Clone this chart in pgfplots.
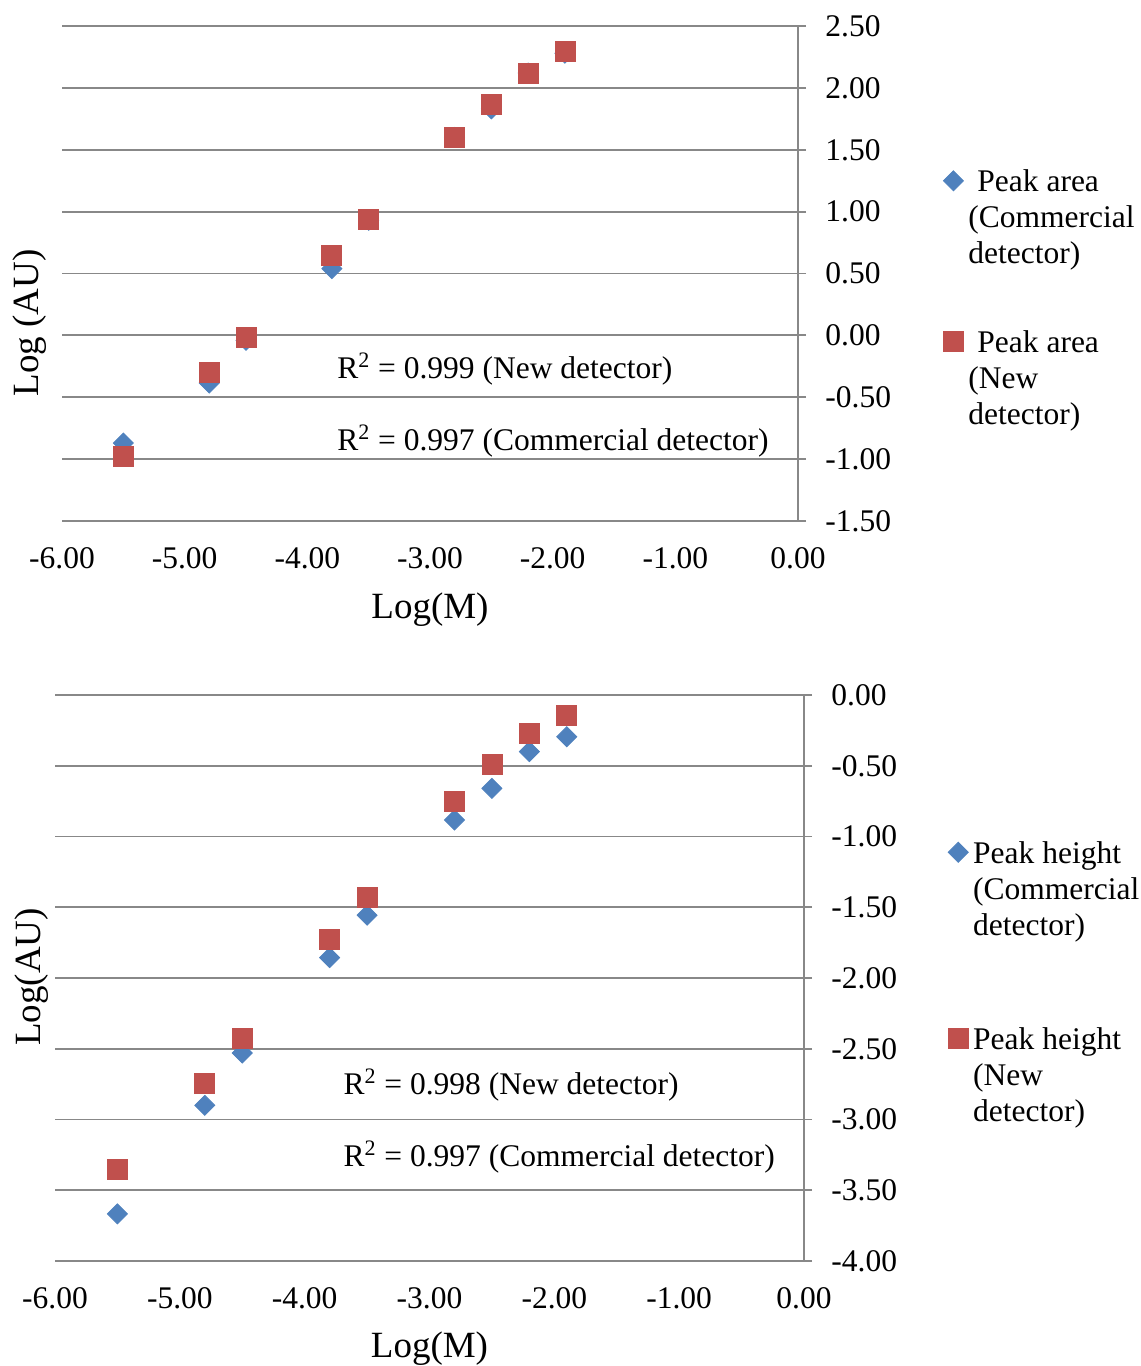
\documentclass[border=0pt]{standalone}
\usepackage{pgfplots}
\pgfplotsset{compat=1.18}
\usepackage{fontspec}
\setmainfont{Liberation Serif}
\definecolor{cblue}{HTML}{4F81BD}
\definecolor{cred}{HTML}{C0504D}
\definecolor{cgrid}{HTML}{888888}
\newcommand{\tfont}{\fontsize{15.75}{18}\selectfont}
\newcommand{\lfont}{\fontsize{18.5}{22}\selectfont}
\newcommand{\lgtext}[1]{\parbox[t]{100pt}{\raggedright\tfont #1}}
\pgfplotsset{
  myax/.style={
    scale only axis,
    xmin=-6, xmax=0,
    xtick={-6,-5,-4,-3,-2,-1,0},
    axis x line=bottom,
    axis y line=right,
    x axis line style={draw=none},
    y axis line style={draw=cgrid, line width=0.9pt, -},
    ymajorgrids,
    grid style={draw=cgrid, line width=0.9pt},
    xtick style={draw=none},
    ytick style={draw=cgrid, line width=0.9pt},
    major tick length=4pt,
    tick align=outside,
    tick label style={font=\tfont},
    /pgf/number format/.cd, fixed, fixed zerofill, precision=2, assume math mode=true, /pgfplots/.cd,
    yticklabel style={anchor=west, inner sep=0pt},
    yticklabel shift=9.5pt,
    xticklabel style={anchor=north, inner sep=0pt},
    xticklabel shift=9pt,
    legend style={draw=none, fill=none, font=\tfont, inner sep=0pt,
      nodes={inner sep=0pt, anchor=base west}, anchor=north west, column sep=2.5pt},
    legend cell align=left,
  },
  bm/.style={only marks, mark=square*, mark size=3.54pt, mark options={rotate=45, draw=cblue, fill=cblue},
    legend image code/.code={\draw[mark=square*, mark size=3.54pt, mark options={rotate=45, draw=cblue, fill=cblue}] plot coordinates {(5pt,5.5pt)};}},
  rm/.style={only marks, mark=square*, mark size=5pt, mark options={draw=cred, fill=cred},
    legend image code/.code={\draw[mark=square*, mark size=5pt, mark options={draw=cred, fill=cred}] plot coordinates {(5pt,5.5pt)};}},
}
\begin{document}
\begin{tikzpicture}
\useasboundingbox (0,0) rectangle (570.5pt,-683pt);
% ---------- top: peak area ----------
\begin{axis}[myax,
  at={(31pt,-13pt)}, anchor=north west,
  width=368pt, height=247.5pt,
  ymin=-1.5, ymax=2.5,
  ytick={-1.5,-1,-0.5,0,0.5,1,1.5,2,2.5},
  every axis y label/.style={at={(rel axis cs:-0.0435,0.4)}, rotate=90, anchor=center, font=\lfont},
  every axis x label/.style={at={(rel axis cs:0.5,0)}, anchor=center, yshift=-44.5pt, font=\lfont},
  ylabel={Log (AU)}, xlabel={Log(M)},
  legend style={at={(rel axis cs:1.197,0.71)}, row sep=68pt},
]
\addplot[bm] coordinates {(-5.5,-0.87) (-4.8,-0.385) (-4.5,-0.04) (-3.8,0.54) (-3.5,0.93) (-2.8,1.60) (-2.5,1.83) (-2.2,2.12) (-1.9,2.28)};
\addlegendentry{\lgtext{\hspace*{4.5pt}Peak area\\(Commercial\\detector)}}
\addplot[rm] coordinates {(-5.5,-0.975) (-4.8,-0.296) (-4.5,-0.02) (-3.8,0.65) (-3.5,0.934) (-2.8,1.603) (-2.5,1.868) (-2.2,2.113) (-1.9,2.297)};
\addlegendentry{\lgtext{\hspace*{4.5pt}Peak area\\(New\\detector)}}
\node[anchor=west, inner sep=0pt, font=\tfont] at (axis cs:-3.759,-0.272) {R\textsuperscript{2} = 0.999 (New detector)};
\node[anchor=west, inner sep=0pt, font=\tfont] at (axis cs:-3.759,-0.854) {R\textsuperscript{2} = 0.997 (Commercial detector)};
\end{axis}
% ---------- bottom: peak height ----------
\begin{axis}[myax,
  at={(27.5pt,-347.5pt)}, anchor=north west,
  width=374.5pt, height=283pt,
  ymin=-4, ymax=0,
  ytick={-4,-3.5,-3,-2.5,-2,-1.5,-1,-0.5,0},
  every axis y label/.style={at={(rel axis cs:-0.031,0.502)}, rotate=90, anchor=center, font=\lfont},
  every axis x label/.style={at={(rel axis cs:0.5,0)}, anchor=center, yshift=-44pt, font=\lfont},
  ylabel={Log(AU)}, xlabel={Log(M)},
  legend style={at={(rel axis cs:1.192,0.742)}, row sep=80.5pt},
]
\addplot[bm] coordinates {(-5.5,-3.667) (-4.8,-2.90) (-4.5,-2.53) (-3.8,-1.856) (-3.5,-1.556) (-2.8,-0.883) (-2.5,-0.66) (-2.2,-0.40) (-1.9,-0.295)};
\addlegendentry{\lgtext{Peak height\\(Commercial\\detector)}}
\addplot[rm] coordinates {(-5.5,-3.35) (-4.8,-2.748) (-4.5,-2.43) (-3.8,-1.73) (-3.5,-1.43) (-2.8,-0.75) (-2.5,-0.489) (-2.2,-0.269) (-1.9,-0.144)};
\addlegendentry{\lgtext{Peak height\\(New\\detector)}}
\node[anchor=west, inner sep=0pt, font=\tfont] at (axis cs:-3.692,-2.756) {R\textsuperscript{2} = 0.998 (New detector)};
\node[anchor=west, inner sep=0pt, font=\tfont] at (axis cs:-3.692,-3.265) {R\textsuperscript{2} = 0.997 (Commercial detector)};
\end{axis}
\end{tikzpicture}
\end{document}
